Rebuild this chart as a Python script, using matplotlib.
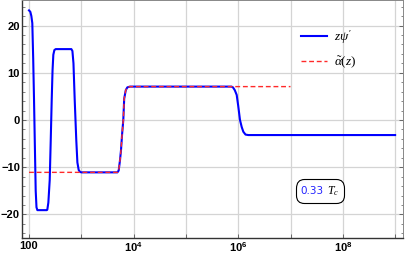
import numpy as np
import matplotlib.pyplot as plt
from matplotlib.ticker import FixedLocator, MultipleLocator, FuncFormatter
from matplotlib.offsetbox import TextArea, HPacker, AnnotationBbox

plt.rcParams['mathtext.fontset'] = 'custom'
plt.rcParams['mathtext.rm'] = 'Liberation Serif'
plt.rcParams['mathtext.it'] = 'Liberation Serif:italic'
plt.rcParams['mathtext.bf'] = 'Liberation Sans:bold'

# curve z*psi' (log10 z, value)
logz_psi = [2.000, 2.025, 2.045, 2.063, 2.080, 2.096, 2.112, 2.128, 2.143, 2.160,
            2.340, 2.350, 2.370, 2.396, 2.415, 2.434, 2.450, 2.465, 2.485, 2.511,
            2.810, 2.830, 2.850, 2.874, 2.904, 2.925, 2.950, 2.975, 3.000,
            3.690, 3.715, 3.740, 3.759, 3.780, 3.803, 3.820, 3.850, 3.880, 3.930,
            5.870, 5.900, 5.935, 5.971, 6.000, 6.034, 6.067, 6.098, 6.140, 6.193,
            9.000]
val_psi = [23.2, 22.9, 22.0, 20.5, 13.0, 4.2, -5.5, -15.0, -18.5, -19.1,
           -19.1, -19.0, -17.5, -12.7, -4.5, 4.2, 10.5, 13.8, 14.8, 15.0,
           15.0, 14.6, 12.0, 4.2, -4.3, -9.0, -10.6, -11.0, -11.1,
           -11.1, -10.7, -8.5, -6.4, -3.0, 0.0, 4.5, 6.3, 6.9, 7.06,
           7.06, 6.9, 6.3, 5.3, 3.0, 0.0, -1.5, -2.5, -3.1, -3.2,
           -3.2]

# alpha tilde (dashed)
logz_alpha = [2.000, 3.690, 3.715, 3.740, 3.759, 3.780, 3.803, 3.820, 3.850, 3.880, 3.930, 7.000]
val_alpha = [-11.1, -11.1, -10.7, -8.5, -6.4, -3.0, 0.0, 4.5, 6.3, 6.9, 7.06, 7.06]

xticks_exp = [2, 3, 4, 5, 6, 7, 8, 9]
labeled_exp = [2, 4, 6, 8]
yticks = [-20, -10, 0, 10, 20]

fig = plt.figure(figsize=(4.07, 2.56), dpi=100)
ax = fig.add_axes([22 / 407, 18 / 256, 381 / 407, 238 / 256])

z1 = 10.0 ** np.array(logz_psi)
z2 = 10.0 ** np.array(logz_alpha)
ax.plot(z1, val_psi, color='#0000ff', lw=1.5, label=r'$z\psi^{\prime}$', zorder=3)
ax.plot(z2, val_alpha, color='#ff2a2a', lw=1.0, ls=(0, (3.5, 2)), label=r'$\tilde{\alpha}(z)$', zorder=4)

ax.set_xscale('log')
ax.set_xlim(10 ** 1.866, 10 ** 9.151)
ax.set_ylim(-25, 25.4)

ax.xaxis.set_major_locator(FixedLocator([10.0 ** e for e in xticks_exp]))
ax.xaxis.set_minor_locator(FixedLocator([]))


def xfmt(v, pos):
    e = int(round(np.log10(v)))
    if e not in labeled_exp:
        return ''
    if e == 2:
        return '100'
    return r'10$^{\mathbf{%d}}$' % e


ax.xaxis.set_major_formatter(FuncFormatter(xfmt))
ax.yaxis.set_major_locator(FixedLocator(yticks))
ax.yaxis.set_minor_locator(MultipleLocator(2))
ax.yaxis.set_major_formatter(FuncFormatter(lambda v, p: ('%d' % v).replace('-', '\u2212')))

ax.tick_params(axis='both', which='both', direction='in', right=True, top=False,
               colors='#555555', labelcolor='black', labelsize=8)
ax.tick_params(axis='both', which='major', length=3, width=0.6, pad=2)
ax.tick_params(axis='y', which='major', pad=1.5)
ax.tick_params(axis='both', which='minor', length=1.8, width=0.5)
for lab in ax.get_xticklabels() + ax.get_yticklabels():
    lab.set_fontfamily('Liberation Sans')
    lab.set_fontweight('bold')

ax.grid(True, which='major', color='#d4d4d4', lw=0.9)
for s in ['left', 'bottom']:
    ax.spines[s].set_color('#333333')
    ax.spines[s].set_linewidth(1.0)
for s in ['right', 'top']:
    ax.spines[s].set_color('#888888')
    ax.spines[s].set_linewidth(0.7)

leg = ax.legend(loc='upper left', bbox_to_anchor=(0.70, 0.93), frameon=False,
                fontsize=9.5, handlelength=2.0, labelspacing=0.6, handletextpad=0.5)

t1 = TextArea('0.33', textprops=dict(color='#2222ff', fontsize=7.5))
t2 = TextArea(r'$T_c$', textprops=dict(color='black', fontsize=8.5))
box = HPacker(children=[t1, t2], align='baseline', pad=0, sep=2.5)
ab = AnnotationBbox(box, (0.782, 0.197), xycoords='axes fraction', frameon=True,
                    box_alignment=(0.5, 0.5), pad=0.35,
                    bboxprops=dict(boxstyle='round,pad=0.35,rounding_size=0.6',
                                   fc='white', ec='black', lw=0.8))
ax.add_artist(ab)

fig.savefig('out.png', dpi=100)
